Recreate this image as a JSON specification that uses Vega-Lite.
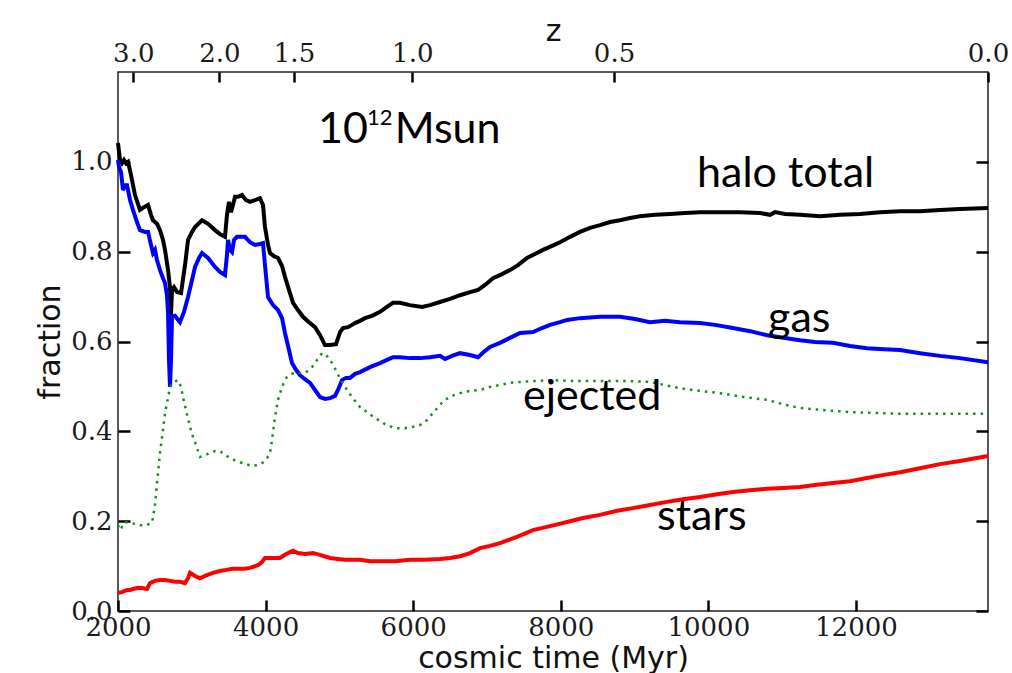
{
  "$schema": "https://vega.github.io/schema/vega-lite/v6.json",
  "width": 870,
  "height": 539,
  "autosize": {"type": "none"},
  "padding": {"left": 118, "top": 72, "right": 24, "bottom": 62},
  "background": "white",
  "config": {
    "view": {"stroke": "#222", "strokeWidth": 1.5},
    "axis": {
      "grid": false,
      "domain": false,
      "tickColor": "#000",
      "tickWidth": 2.5,
      "labelFont": "DejaVu Serif",
      "labelFontSize": 26,
      "labelColor": "#1a1a1a",
      "titleFont": "DejaVu Sans",
      "titleFontSize": 30,
      "titleFontWeight": "normal",
      "titleColor": "#111",
      "labelOverlap": false,
      "labelFlush": false,
      "labelBound": false
    }
  },
  "datasets": {
    "halo": [
      {"t":2000,"f":1.042},{"t":2027,"f":1.004},{"t":2054,"f":0.997},{"t":2081,"f":1.004},{"t":2108,"f":0.997},{"t":2136,"f":1.0},
      {"t":2176,"f":0.971},{"t":2230,"f":0.926},{"t":2298,"f":0.893},{"t":2352,"f":0.899},{"t":2407,"f":0.904},{"t":2447,"f":0.882},
      {"t":2474,"f":0.87},{"t":2529,"f":0.862},{"t":2569,"f":0.848},{"t":2610,"f":0.826},{"t":2637,"f":0.804},{"t":2678,"f":0.759},
      {"t":2705,"f":0.721},{"t":2718,"f":0.659},{"t":2732,"f":0.715},{"t":2759,"f":0.721},{"t":2800,"f":0.71},{"t":2854,"f":0.708},
      {"t":2908,"f":0.77},{"t":2949,"f":0.826},{"t":3003,"f":0.844},{"t":3044,"f":0.855},{"t":3138,"f":0.87},{"t":3220,"f":0.862},
      {"t":3315,"f":0.848},{"t":3382,"f":0.839},{"t":3450,"f":0.833},{"t":3477,"f":0.882},{"t":3504,"f":0.911},{"t":3531,"f":0.888},
      {"t":3558,"f":0.904},{"t":3586,"f":0.922},{"t":3626,"f":0.922},{"t":3680,"f":0.926},{"t":3735,"f":0.915},{"t":3789,"f":0.911},
      {"t":3857,"f":0.915},{"t":3924,"f":0.919},{"t":3965,"f":0.904},{"t":3992,"f":0.855},{"t":4033,"f":0.815},{"t":4060,"f":0.797},
      {"t":4114,"f":0.79},{"t":4168,"f":0.786},{"t":4223,"f":0.768},{"t":4263,"f":0.744},{"t":4317,"f":0.715},{"t":4372,"f":0.686},
      {"t":4439,"f":0.67},{"t":4507,"f":0.655},{"t":4588,"f":0.643},{"t":4670,"f":0.632},{"t":4738,"f":0.614},{"t":4805,"f":0.592},
      {"t":4873,"f":0.592},{"t":4954,"f":0.594},{"t":5009,"f":0.621},{"t":5049,"f":0.63},{"t":5117,"f":0.632},{"t":5171,"f":0.637},
      {"t":5212,"f":0.641},{"t":5280,"f":0.646},{"t":5347,"f":0.652},{"t":5442,"f":0.657},{"t":5551,"f":0.666},{"t":5645,"f":0.677},
      {"t":5727,"f":0.686},{"t":5822,"f":0.686},{"t":5957,"f":0.681},{"t":6120,"f":0.677},{"t":6228,"f":0.681},{"t":6364,"f":0.688},
      {"t":6499,"f":0.695},{"t":6635,"f":0.703},{"t":6770,"f":0.71},{"t":6879,"f":0.715},{"t":6974,"f":0.726},{"t":7082,"f":0.741},
      {"t":7204,"f":0.75},{"t":7312,"f":0.759},{"t":7421,"f":0.77},{"t":7543,"f":0.786},{"t":7651,"f":0.795},{"t":7760,"f":0.804},
      {"t":7882,"f":0.813},{"t":7990,"f":0.821},{"t":8126,"f":0.833},{"t":8261,"f":0.844},{"t":8397,"f":0.853},{"t":8532,"f":0.859},
      {"t":8668,"f":0.866},{"t":8803,"f":0.87},{"t":8939,"f":0.875},{"t":9074,"f":0.879},{"t":9277,"f":0.882},{"t":9481,"f":0.884},
      {"t":9684,"f":0.886},{"t":9887,"f":0.888},{"t":10158,"f":0.888},{"t":10429,"f":0.888},{"t":10700,"f":0.886},{"t":10836,"f":0.882},
      {"t":10904,"f":0.888},{"t":11039,"f":0.884},{"t":11242,"f":0.882},{"t":11514,"f":0.879},{"t":11785,"f":0.882},{"t":12056,"f":0.884},
      {"t":12327,"f":0.888},{"t":12598,"f":0.89},{"t":12869,"f":0.89},{"t":13140,"f":0.893},{"t":13411,"f":0.895},{"t":13790,"f":0.897}
    ],
    "gas": [
      {"t":2000,"f":1.004},{"t":2014,"f":0.988},{"t":2041,"f":0.977},{"t":2068,"f":0.937},{"t":2095,"f":0.948},{"t":2122,"f":0.948},
      {"t":2163,"f":0.915},{"t":2203,"f":0.893},{"t":2257,"f":0.866},{"t":2298,"f":0.848},{"t":2366,"f":0.844},{"t":2407,"f":0.844},
      {"t":2447,"f":0.815},{"t":2474,"f":0.797},{"t":2501,"f":0.804},{"t":2529,"f":0.781},{"t":2569,"f":0.759},{"t":2610,"f":0.741},
      {"t":2637,"f":0.73},{"t":2664,"f":0.703},{"t":2678,"f":0.663},{"t":2691,"f":0.559},{"t":2705,"f":0.499},{"t":2718,"f":0.559},
      {"t":2732,"f":0.655},{"t":2772,"f":0.657},{"t":2840,"f":0.643},{"t":2894,"f":0.666},{"t":2949,"f":0.699},{"t":3003,"f":0.737},
      {"t":3044,"f":0.766},{"t":3098,"f":0.786},{"t":3138,"f":0.797},{"t":3220,"f":0.786},{"t":3315,"f":0.766},{"t":3382,"f":0.755},
      {"t":3450,"f":0.748},{"t":3477,"f":0.793},{"t":3491,"f":0.826},{"t":3518,"f":0.804},{"t":3545,"f":0.799},{"t":3572,"f":0.826},
      {"t":3613,"f":0.833},{"t":3667,"f":0.833},{"t":3721,"f":0.833},{"t":3789,"f":0.821},{"t":3857,"f":0.815},{"t":3924,"f":0.817},
      {"t":3965,"f":0.819},{"t":3992,"f":0.77},{"t":4033,"f":0.699},{"t":4101,"f":0.681},{"t":4168,"f":0.67},{"t":4223,"f":0.652},
      {"t":4263,"f":0.619},{"t":4317,"f":0.581},{"t":4358,"f":0.552},{"t":4412,"f":0.537},{"t":4466,"f":0.525},{"t":4534,"f":0.516},
      {"t":4602,"f":0.508},{"t":4670,"f":0.492},{"t":4738,"f":0.476},{"t":4805,"f":0.472},{"t":4873,"f":0.474},{"t":4941,"f":0.479},
      {"t":4981,"f":0.492},{"t":5036,"f":0.514},{"t":5090,"f":0.519},{"t":5144,"f":0.519},{"t":5212,"f":0.528},{"t":5280,"f":0.532},
      {"t":5415,"f":0.543},{"t":5551,"f":0.552},{"t":5645,"f":0.559},{"t":5727,"f":0.565},{"t":5822,"f":0.565},{"t":5957,"f":0.563},
      {"t":6093,"f":0.563},{"t":6228,"f":0.565},{"t":6364,"f":0.568},{"t":6432,"f":0.561},{"t":6526,"f":0.568},{"t":6635,"f":0.574},
      {"t":6770,"f":0.57},{"t":6879,"f":0.565},{"t":6960,"f":0.577},{"t":7041,"f":0.588},{"t":7177,"f":0.597},{"t":7312,"f":0.608},
      {"t":7448,"f":0.619},{"t":7624,"f":0.621},{"t":7746,"f":0.63},{"t":7854,"f":0.637},{"t":7990,"f":0.643},{"t":8085,"f":0.648},
      {"t":8261,"f":0.652},{"t":8532,"f":0.655},{"t":8803,"f":0.655},{"t":9006,"f":0.65},{"t":9210,"f":0.643},{"t":9413,"f":0.646},
      {"t":9616,"f":0.643},{"t":9887,"f":0.641},{"t":10091,"f":0.637},{"t":10334,"f":0.63},{"t":10565,"f":0.623},{"t":10795,"f":0.614},
      {"t":11039,"f":0.608},{"t":11242,"f":0.603},{"t":11446,"f":0.599},{"t":11690,"f":0.597},{"t":11920,"f":0.59},{"t":12150,"f":0.585},
      {"t":12381,"f":0.583},{"t":12598,"f":0.581},{"t":12869,"f":0.574},{"t":13140,"f":0.568},{"t":13411,"f":0.563},{"t":13790,"f":0.554}
    ],
    "ejected": [
      {"t":2000,"f":0.191},{"t":2027,"f":0.18},{"t":2095,"f":0.198},{"t":2163,"f":0.196},{"t":2230,"f":0.194},{"t":2298,"f":0.191},
      {"t":2379,"f":0.191},{"t":2461,"f":0.196},{"t":2501,"f":0.236},{"t":2529,"f":0.285},{"t":2569,"f":0.352},{"t":2610,"f":0.403},
      {"t":2637,"f":0.441},{"t":2678,"f":0.474},{"t":2705,"f":0.499},{"t":2759,"f":0.51},{"t":2813,"f":0.514},{"t":2854,"f":0.499},
      {"t":2881,"f":0.476},{"t":2922,"f":0.447},{"t":2976,"f":0.41},{"t":3016,"f":0.387},{"t":3057,"f":0.37},{"t":3111,"f":0.343},
      {"t":3179,"f":0.347},{"t":3247,"f":0.352},{"t":3315,"f":0.356},{"t":3382,"f":0.356},{"t":3450,"f":0.347},{"t":3518,"f":0.341},
      {"t":3599,"f":0.334},{"t":3694,"f":0.329},{"t":3816,"f":0.323},{"t":3897,"f":0.325},{"t":3951,"f":0.329},{"t":4006,"f":0.336},
      {"t":4060,"f":0.352},{"t":4087,"f":0.381},{"t":4128,"f":0.432},{"t":4168,"f":0.47},{"t":4195,"f":0.485},{"t":4250,"f":0.51},
      {"t":4290,"f":0.521},{"t":4345,"f":0.528},{"t":4399,"f":0.53},{"t":4466,"f":0.53},{"t":4534,"f":0.53},{"t":4588,"f":0.537},
      {"t":4629,"f":0.543},{"t":4697,"f":0.559},{"t":4765,"f":0.574},{"t":4819,"f":0.57},{"t":4873,"f":0.559},{"t":4927,"f":0.545},
      {"t":4968,"f":0.53},{"t":5022,"f":0.514},{"t":5076,"f":0.499},{"t":5171,"f":0.476},{"t":5280,"f":0.454},{"t":5388,"f":0.441},
      {"t":5483,"f":0.43},{"t":5618,"f":0.416},{"t":5754,"f":0.407},{"t":5889,"f":0.407},{"t":5998,"f":0.41},{"t":6093,"f":0.414},
      {"t":6188,"f":0.425},{"t":6269,"f":0.441},{"t":6364,"f":0.459},{"t":6432,"f":0.47},{"t":6526,"f":0.479},{"t":6635,"f":0.485},
      {"t":6770,"f":0.49},{"t":6906,"f":0.492},{"t":7041,"f":0.499},{"t":7177,"f":0.503},{"t":7312,"f":0.508},{"t":7448,"f":0.51},
      {"t":7651,"f":0.512},{"t":7854,"f":0.514},{"t":8193,"f":0.512},{"t":8532,"f":0.512},{"t":8871,"f":0.512},{"t":9210,"f":0.51},
      {"t":9413,"f":0.503},{"t":9616,"f":0.496},{"t":9887,"f":0.49},{"t":10158,"f":0.485},{"t":10497,"f":0.476},{"t":10795,"f":0.47},
      {"t":11039,"f":0.459},{"t":11242,"f":0.452},{"t":11581,"f":0.447},{"t":11920,"f":0.443},{"t":12259,"f":0.441},{"t":12598,"f":0.439},
      {"t":13140,"f":0.439},{"t":13790,"f":0.439}
    ],
    "stars": [
      {"t":2000,"f":0.04},{"t":2054,"f":0.042},{"t":2122,"f":0.047},{"t":2163,"f":0.047},{"t":2203,"f":0.049},{"t":2257,"f":0.051},
      {"t":2325,"f":0.051},{"t":2393,"f":0.049},{"t":2434,"f":0.062},{"t":2501,"f":0.067},{"t":2569,"f":0.069},{"t":2637,"f":0.069},
      {"t":2705,"f":0.067},{"t":2772,"f":0.065},{"t":2840,"f":0.065},{"t":2908,"f":0.062},{"t":2949,"f":0.073},{"t":2976,"f":0.085},
      {"t":3044,"f":0.078},{"t":3111,"f":0.073},{"t":3179,"f":0.078},{"t":3287,"f":0.085},{"t":3382,"f":0.089},{"t":3450,"f":0.091},
      {"t":3545,"f":0.094},{"t":3653,"f":0.094},{"t":3721,"f":0.094},{"t":3789,"f":0.096},{"t":3857,"f":0.1},{"t":3897,"f":0.102},
      {"t":3951,"f":0.109},{"t":3992,"f":0.118},{"t":4060,"f":0.118},{"t":4128,"f":0.118},{"t":4195,"f":0.118},{"t":4263,"f":0.125},
      {"t":4331,"f":0.131},{"t":4372,"f":0.134},{"t":4439,"f":0.129},{"t":4534,"f":0.127},{"t":4643,"f":0.129},{"t":4738,"f":0.125},
      {"t":4873,"f":0.118},{"t":4981,"f":0.116},{"t":5076,"f":0.114},{"t":5171,"f":0.114},{"t":5280,"f":0.114},{"t":5415,"f":0.111},
      {"t":5551,"f":0.111},{"t":5754,"f":0.111},{"t":5957,"f":0.114},{"t":6160,"f":0.114},{"t":6364,"f":0.116},{"t":6499,"f":0.118},
      {"t":6635,"f":0.122},{"t":6770,"f":0.129},{"t":6906,"f":0.14},{"t":7041,"f":0.145},{"t":7177,"f":0.151},{"t":7407,"f":0.165},
      {"t":7624,"f":0.18},{"t":7854,"f":0.189},{"t":8085,"f":0.198},{"t":8302,"f":0.207},{"t":8532,"f":0.214},{"t":8762,"f":0.223},
      {"t":8979,"f":0.229},{"t":9210,"f":0.236},{"t":9440,"f":0.243},{"t":9657,"f":0.249},{"t":9887,"f":0.254},{"t":10118,"f":0.26},
      {"t":10334,"f":0.265},{"t":10565,"f":0.269},{"t":10795,"f":0.272},{"t":11012,"f":0.274},{"t":11242,"f":0.276},{"t":11473,"f":0.281},
      {"t":11690,"f":0.285},{"t":11920,"f":0.289},{"t":12150,"f":0.296},{"t":12381,"f":0.303},{"t":12598,"f":0.309},{"t":12869,"f":0.318},
      {"t":13140,"f":0.327},{"t":13411,"f":0.334},{"t":13790,"f":0.345}
    ],
    "labels": [
      {"t":4710,"f":1.042,"label":"10"},
      {"t":5750,"f":1.042,"label":"Msun"},
      {"t":9847,"f":0.944,"label":"halo total"},
      {"t":10809,"f":0.621,"label":"gas"},
      {"t":7489,"f":0.447,"label":"ejected"},
      {"t":9305,"f":0.18,"label":"stars"}
    ],
    "exponent": [
      {"t":5374,"f":1.082,"label":"12"}
    ]
  },
  "layer": [
    {
      "data": {"name": "halo"},
      "mark": {"type": "line", "color": "#000000", "strokeWidth": 4},
      "encoding": {
        "x": {
          "field": "t", "type": "quantitative",
          "scale": {"domain": [2000, 13790], "nice": false, "zero": false},
          "axis": {
            "orient": "bottom",
            "title": "cosmic time (Myr)",
            "values": [2000, 4000, 6000, 8000, 10000, 12000],
            "format": "d",
            "tickSize": -11,
            "labelPadding": 14,
            "titlePadding": 3
          }
        },
        "y": {
          "field": "f", "type": "quantitative",
          "scale": {"domain": [0, 1.2], "nice": false, "zero": false},
          "axis": {
            "orient": "left",
            "title": "fraction",
            "values": [0, 0.2, 0.4, 0.6, 0.8, 1.0],
            "format": ".1f",
            "tickSize": -12,
            "labelPadding": 18,
            "titlePadding": 5
          }
        }
      }
    },
    {
      "data": {"name": "gas"},
      "mark": {"type": "line", "color": "#0000ff", "strokeWidth": 4},
      "encoding": {
        "x": {"field": "t", "type": "quantitative", "scale": {"domain": [2000, 13790], "nice": false, "zero": false}, "axis": null},
        "y": {"field": "f", "type": "quantitative", "scale": {"domain": [0, 1.2], "nice": false, "zero": false}, "axis": null}
      }
    },
    {
      "data": {"name": "stars"},
      "mark": {"type": "line", "color": "#ff0000", "strokeWidth": 4},
      "encoding": {
        "x": {"field": "t", "type": "quantitative", "scale": {"domain": [2000, 13790], "nice": false, "zero": false}, "axis": null},
        "y": {"field": "f", "type": "quantitative", "scale": {"domain": [0, 1.2], "nice": false, "zero": false}, "axis": null}
      }
    },
    {
      "data": {"name": "ejected"},
      "mark": {"type": "line", "color": "#1a8c1a", "strokeWidth": 2.5, "strokeDash": [2.5, 5], "strokeCap": "butt"},
      "encoding": {
        "x": {"field": "t", "type": "quantitative", "scale": {"domain": [2000, 13790], "nice": false, "zero": false}, "axis": null},
        "y": {"field": "f", "type": "quantitative", "scale": {"domain": [0, 1.2], "nice": false, "zero": false}, "axis": null}
      }
    },
    {
      "data": {"name": "exponent"},
      "mark": {"type": "text", "font": "Lato", "fontSize": 22, "align": "left", "baseline": "alphabetic", "color": "#000000"},
      "encoding": {
        "x": {"field": "t", "type": "quantitative", "scale": {"domain": [2000, 13790], "nice": false, "zero": false}, "axis": null},
        "y": {"field": "f", "type": "quantitative", "scale": {"domain": [0, 1.2], "nice": false, "zero": false}, "axis": null},
        "text": {"field": "label", "type": "nominal"}
      }
    },
    {
      "data": {"name": "labels"},
      "mark": {"type": "text", "font": "Lato", "fontSize": 43, "align": "left", "baseline": "alphabetic", "color": "#000000"},
      "encoding": {
        "x": {
          "field": "t", "type": "quantitative",
          "scale": {"domain": [2000, 13790], "nice": false, "zero": false},
          "axis": {
            "orient": "top",
            "title": "z",
            "values": [2207, 3373, 4385, 5988, 8722, 13790],
            "labelExpr": "datum.value < 2500 ? '3.0' : datum.value < 4000 ? '2.0' : datum.value < 5000 ? '1.5' : datum.value < 7000 ? '1.0' : datum.value < 10000 ? '0.5' : '0.0'",
            "tickSize": -10,
            "labelPadding": 16,
            "titlePadding": -6
          }
        },
        "y": {
          "field": "f", "type": "quantitative",
          "scale": {"domain": [0, 1.2], "nice": false, "zero": false},
          "axis": {
            "orient": "right",
            "title": null,
            "labels": false,
            "values": [0, 0.2, 0.4, 0.6, 0.8, 1.0],
            "tickSize": -12
          }
        },
        "text": {"field": "label", "type": "nominal"}
      }
    }
  ],
  "resolve": {"axis": {"x": "independent", "y": "independent"}}
}
